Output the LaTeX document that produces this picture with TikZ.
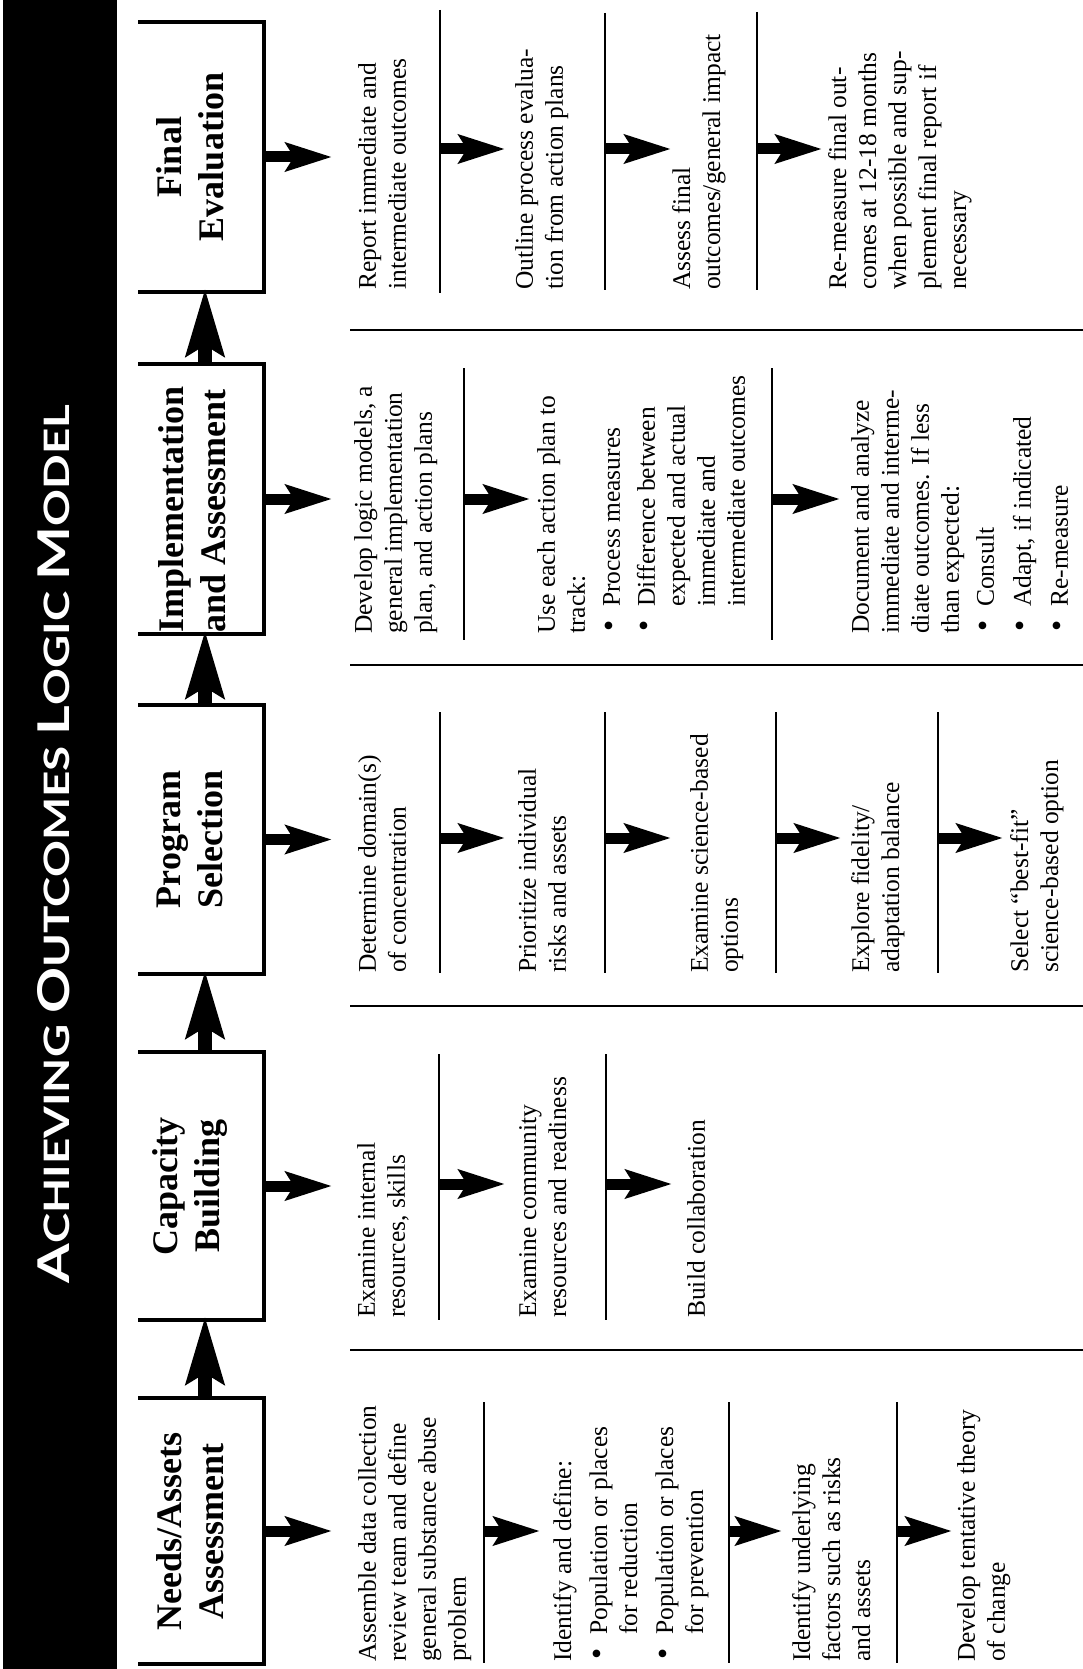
\documentclass[tikz,border=0pt]{standalone}
\usepackage{fontspec}
\setmainfont{Liberation Serif}
\newfontfamily\titlefont{Lato}
\usetikzlibrary{arrows.meta,calc}
% bullet item and hanging indent for continuation lines
\newcommand\bul{\makebox[27pt][l]{\hspace{2pt}\scalebox{1.25}{\textbullet}}}
\newcommand\ind{\hspace*{27pt}}
\newcommand\bigc[1]{{\fontsize{40}{40}\selectfont #1}}
\begin{document}
\begin{tikzpicture}[x=1pt,y=-1pt,
  stagebox/.style={minimum width=126pt,inner sep=0pt,outer sep=0pt},
  boxline/.style={line width=4.5pt,line join=miter},
  stagetitle/.style={rotate=90,align=center,inner sep=0pt,
    font=\fontsize{36}{42}\selectfont\bfseries},
  bodytext/.style={rotate=90,anchor=north west,align=left,inner sep=0pt,
    font=\fontsize{25.5}{30}\selectfont},
  divider/.style={line width=1.8pt},
  separator/.style={line width=2.4pt},
  uparrow/.style={line width=14pt,-{Stealth[length=67pt,width=37pt,inset=10pt]}},
  rowarrow/.style={line width=11pt,-{Stealth[length=46pt,width=28pt,inset=8pt]}},
]
\useasboundingbox (0,0) rectangle (1083,1669);

% title band
\fill[black] (3,0) rectangle (117,1669);
\node[text=white,rotate=90,inner sep=0pt] (title) at (54,844)
  {\resizebox{879pt}{32pt}{\titlefont\bfseries\fontsize{32}{32}\selectfont
   \bigc{A}CHIEVING \bigc{O}UTCOMES \bigc{L}OGIC \bigc{M}ODEL}};

% stage boxes (open on the left)
\node[stagebox,minimum height=270pt] (final) at (201,157) {};
\node[stagebox,minimum height=270pt] (impl)  at (201,499) {};
\node[stagebox,minimum height=269pt] (prog)  at (201,839.5) {};
\node[stagebox,minimum height=268pt] (cap)   at (201,1186) {};
\node[stagebox,minimum height=266pt] (needs) at (201,1531) {};
\foreach \b in {final,impl,prog,cap,needs}
  \draw[boxline] (\b.north west) -- (\b.north east) -- (\b.south east) -- (\b.south west);

\node[stagetitle] (finalT) at ($(final.center)+(-11,0)$) {Final\\Evaluation};
\node[stagetitle,align=left,anchor=west] (implT) at (192,633) {Implementation\\and Assessment};
\node[stagetitle] (progT) at ($(prog.center)+(-11,0)$) {Program\\Selection};
\node[stagetitle] (capT) at ($(cap.center)+(-11,0)$) {Capacity\\Building};
\node[stagetitle] (needsT) at ($(needs.center)+(-11,0)$) {Needs/Assets\\Assessment};

% upward flow between stages
\draw[uparrow] ($(needs.north)+(4,0)$) -- ($(cap.south)+(4,-4)$);
\draw[uparrow] ($(cap.north)+(4,0)$) -- ($(prog.south)+(4,-4)$);
\draw[uparrow] ($(prog.north)+(4,0)$) -- ($(impl.south)+(4,-4)$);
\draw[uparrow] ($(impl.north)+(4,0)$) -- ($(final.south)+(4,-4)$);

% arrows out of each stage box
\foreach \b in {final,impl,prog,cap,needs}{
  \coordinate (\b-out) at ($(\b.east)+(68,0)$);
  \draw[rowarrow] (\b.east) -- (\b-out);
}

% row separators
\foreach \y in {330,665,1006,1350}
  \draw[separator] (350,\y) -- (1083,\y);

% step dividers
\foreach \x/\ya/\yb in {440/10/293,605/13/290,757/12/290,
                        464/368/640,772/368/640,
                        440/712/973,605/712/973,776/712/973,938/712/973,
                        439/1054/1320,606/1054/1320,
                        484/1402/1663,729/1402/1663,897/1402/1663}
  \draw[divider] (\x,\ya) -- (\x,\yb);

% arrows between steps
\foreach \xa/\xb/\y/\n in {440/505/149/f1,605/671/149/f2,757/822/149/f3,
                          464/530/499/i1,772/840/499/i2,
                          440/505/838/p1,605/671/838/p2,776/841/838/p3,938/1003/838/p4,
                          439/505/1184/c1,606/672/1184/c2,
                          484/540/1531/n1,729/782/1531/n2,897/952/1531/n3}{
  \coordinate (\n s) at (\xa,\y);
  \coordinate (\n e) at (\xb,\y);
  \draw[rowarrow] (\n s) -- (\n e);
}

% Final Evaluation steps
\node[bodytext] (F1) at (358,290) {Report immediate and\\intermediate outcomes};
\node[bodytext] (F2) at (515,290) {Outline process evalua-\\tion from action plans};
\node[bodytext] (F3) at (672,290) {Assess final\\outcomes/general impact};
\node[bodytext] (F4) at (828,290) {Re-measure final out-\\comes at 12-18 months\\when possible and sup-\\plement final report if\\necessary};

% Implementation and Assessment steps
\node[bodytext] (I1) at (354,634) {Develop logic models, a\\general implementation\\plan, and action plans};
\node[bodytext] (I2) at (537,634) {Use each action plan to\\track:\\[5pt]\bul Process measures\\[5pt]\bul Difference between\\\ind expected and actual\\\ind immediate and\\\ind intermediate outcomes};
\node[bodytext] (I3) at (851,634) {Document and analyze\\immediate and interme-\\diate outcomes. If less\\than expected:\\[5pt]\bul Consult\\[7pt]\bul Adapt, if indicated\\[7pt]\bul Re-measure};

% Program Selection steps
\node[bodytext] (P1) at (358,973) {Determine domain(s)\\of concentration};
\node[bodytext] (P2) at (518,973) {Prioritize individual\\risks and assets};
\node[bodytext] (P3) at (690,973) {Examine science-based\\options};
\node[bodytext] (P4) at (851,973) {Explore fidelity/\\adaptation balance};
\node[bodytext] (P5) at (1010,973) {Select “best-fit”\\science-based option};

% Capacity Building steps
\node[bodytext] (C1) at (357,1318) {Examine internal\\resources, skills};
\node[bodytext] (C2) at (519,1318) {Examine community\\resources and readiness};
\node[bodytext] (C3) at (687,1318) {Build collaboration};

% Needs/Assets Assessment steps
\node[bodytext] (N1) at (358,1662) {Assemble data collection\\review team and define\\general substance abuse\\problem};
\node[bodytext] (N2) at (553,1662) {Identify and define:\\[6pt]\bul Population or places\\\ind for reduction\\[6pt]\bul Population or places\\\ind for prevention};
\node[bodytext] (N3) at (792,1662) {Identify underlying\\factors such as risks\\and assets};
\node[bodytext] (N4) at (957,1662) {Develop tentative theory\\of change};
\end{tikzpicture}
\end{document}
